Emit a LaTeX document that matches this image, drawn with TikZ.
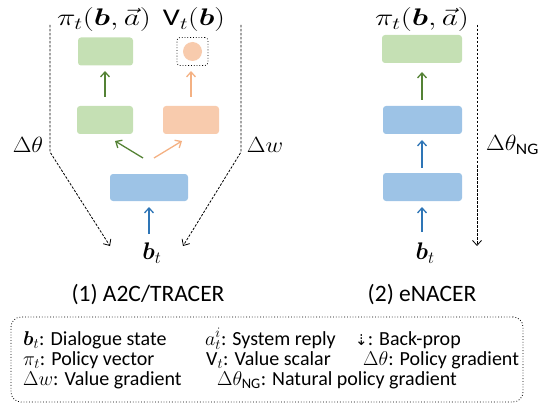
\RequirePackage{fix-cm}
\documentclass[tikz,border=0pt]{standalone}
\usepackage{amsmath,bm,graphicx}
\usepackage{fontspec}
\setmainfont{Carlito}
\newfontfamily\djv{DejaVu Sans}
\usetikzlibrary{arrows.meta}
\DeclareMathSizes{22}{22}{16}{12}
\DeclareMathSizes{24}{24}{17}{12}
\DeclareMathSizes{20}{20}{14.5}{11}
\definecolor{gfill}{HTML}{C5E0B4}
\definecolor{ofill}{HTML}{F8CBAD}
\definecolor{bfill}{HTML}{9DC3E6}
\definecolor{garr}{HTML}{548235}
\definecolor{oarr}{HTML}{F4B183}
\definecolor{barr}{HTML}{2E75B6}
\tikzset{
  boxg/.style={fill=gfill, rounded corners=3pt, inner sep=0pt},
  boxo/.style={fill=ofill, rounded corners=3pt, inner sep=0pt},
  boxb/.style={fill=bfill, rounded corners=3pt, inner sep=0pt},
  conn/.style={line width=1.3pt, -{Straight Barb[length=5pt,width=9pt,line width=1.3pt]}},
  ga/.style={conn, draw=garr},
  oa/.style={conn, draw=oarr},
  ba/.style={conn, draw=barr},
  bp/.style={line width=0.8pt, dashed, dash pattern=on 2.5pt off 1.5pt, -{Straight Barb[length=5pt,width=9pt,line width=0.8pt]}},
  mlab/.style={font=\fontsize{22}{26}\selectfont, inner sep=0pt},
  mtop/.style={font=\fontsize{24}{28}\selectfont, inner sep=0pt},
  ttl/.style={font=\fontsize{23.5}{28}\selectfont, inner sep=0pt},
  leg/.style={font=\fontsize{20}{24}\selectfont, inner sep=0pt, anchor=base west, text height=13pt, text depth=4pt},
}
\begin{document}
\begin{tikzpicture}[x=1pt,y=-1pt]
\useasboundingbox (0,0) rectangle (540,414);
% ---------- left panel ----------
\node[mtop] (piL) at (104,20) {\scalebox{1.3}[1]{$\pi_t(\bm{b},\vec{a})$}};
\node[mtop] (vL) at (194,20) {\scalebox{1.25}[1]{$\text{V}_t(\bm{b})$}};
\node[boxg, minimum width=55pt, minimum height=28pt] (gtop) at (105.5,51.5) {};
\node[draw, dotted, line width=0.8pt, rounded corners=3pt, minimum width=31pt, minimum height=28pt, inner sep=0pt] (vbox) at (192.5,51.5) {};
\node[circle, fill=ofill, minimum size=19pt, inner sep=0pt] (vdot) at (192.5,51.5) {};
\node[boxg, minimum width=56pt, minimum height=28pt] (gmid) at (105,120) {};
\node[boxo, minimum width=56pt, minimum height=28pt] (omid) at (191,120) {};
\node[boxb, minimum width=78pt, minimum height=27pt] (bl) at (149,187.5) {};
\node[mtop] (btL) at (152,253) {$\bm{b}_t$};
\coordinate (g1s) at (105,97);  \coordinate (g1e) at (105,71);
\coordinate (o1s) at (191,97);  \coordinate (o1e) at (191,71);
\coordinate (gds) at (143,158); \coordinate (gde) at (115,141);
\coordinate (ods) at (154,158); \coordinate (ode) at (182,141);
\coordinate (bls) at (149,234); \coordinate (ble) at (149,207);
\draw[ga] (g1s) -- (g1e);
\draw[oa] (o1s) -- (o1e);
\draw[ga] (gds) -- (gde);
\draw[oa] (ods) -- (ode);
\draw[ba] (bls) -- (ble);
\coordinate (la) at (50,25); \coordinate (lb) at (50,152); \coordinate (lc) at (110,246);
\coordinate (ra) at (241,25); \coordinate (rb) at (241,152); \coordinate (rc) at (183,246);
\draw[bp] (la) -- (lb) -- (lc);
\draw[bp] (ra) -- (rb) -- (rc);
\node[mlab] (dth) at (28,145) {\scalebox{1.1}[1]{$\Delta\theta$}};
\node[mlab] (dw) at (265,145) {\scalebox{1.1}[1]{$\Delta w$}};
\node[ttl] (t1) at (148,295) {(1) A2C/TRACER};
% ---------- right panel ----------
\node[mtop] (piR) at (422,20) {\scalebox{1.3}[1]{$\pi_t(\bm{b},\vec{a})$}};
\node[boxg, minimum width=80pt, minimum height=28pt] (gR) at (422,49) {};
\node[boxb, minimum width=79pt, minimum height=28pt] (bR1) at (422.5,120) {};
\node[boxb, minimum width=79pt, minimum height=28pt] (bR2) at (422.5,187) {};
\node[mtop] (btR) at (425,253) {$\bm{b}_t$};
\coordinate (r1s) at (422,100); \coordinate (r1e) at (422,72);
\coordinate (r2s) at (422,168); \coordinate (r2e) at (422,140);
\coordinate (r3s) at (422,232); \coordinate (r3e) at (422,207);
\draw[ga] (r1s) -- (r1e);
\draw[ba] (r2s) -- (r2e);
\draw[ba] (r3s) -- (r3e);
\coordinate (na) at (477,25); \coordinate (nb) at (477,246);
\draw[bp] (na) -- (nb);
\node[mlab, anchor=west] (dng) at (486,145) {\scalebox{1.1}[1]{$\Delta\theta_{\text{NG}}$}};
\node[ttl] (t2) at (422,295) {(2) eNACER};
% ---------- legend ----------
\node[draw, dotted, line width=0.8pt, rounded corners=10pt, minimum width=512pt, minimum height=85pt, inner sep=0pt] (legbox) at (267,359.5) {};
\node[leg] (l11) at (23,345) {$\bm{b}_t$: Dialogue state};
\node[leg] (l12) at (205,345) {$a_t^i$: System reply};
\node[leg] (l13) at (355,345) {{\djv\fontsize{15}{18}\selectfont ⇣}: Back-prop};
\node[leg] (l21) at (23,365) {$\pi_t$: Policy vector};
\node[leg] (l22) at (206,365) {$\text{V}_t$: Value scalar};
\node[leg] (l23) at (363,365) {$\Delta\theta$: Policy gradient};
\node[leg] (l31) at (23,385) {$\Delta w$: Value gradient};
\node[leg] (l32) at (217,385) {$\Delta\theta_{\text{NG}}$: Natural policy gradient};
\end{tikzpicture}
\end{document}
